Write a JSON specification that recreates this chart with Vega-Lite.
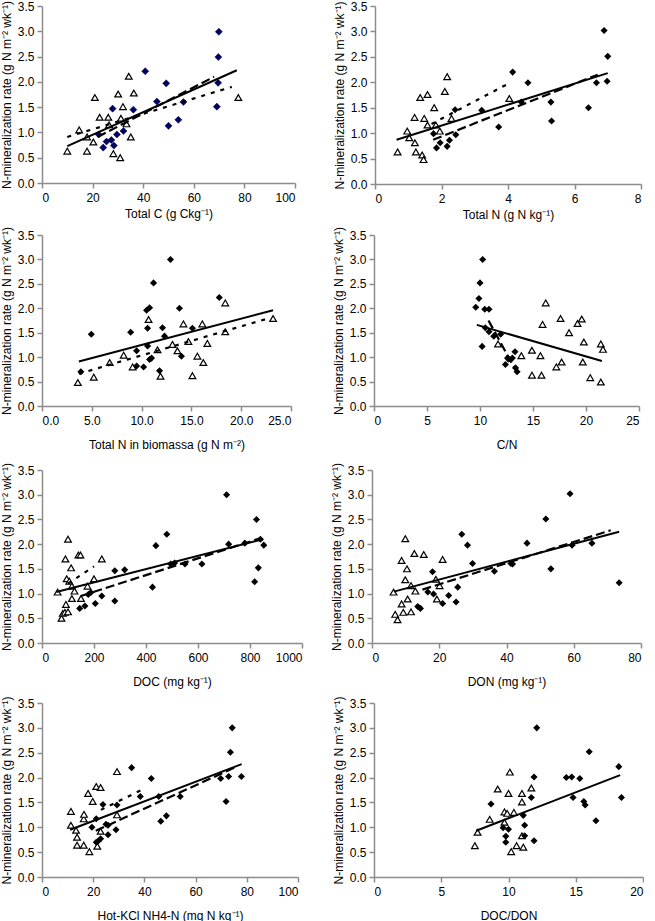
{
"$schema":"https://vega.github.io/schema/vega-lite/v6.json",
"background":"white",
"padding":{"left":0,"top":0,"right":0,"bottom":0},
"config":{
"view":{"stroke":null},
"axis":{"grid":false,"domainColor":"#8c8c8c","tickColor":"#8c8c8c","domainWidth":1.5,"tickWidth":1.5,"tickSize":5,"labelFont":"Liberation Sans","titleFont":"Liberation Sans","labelFontSize":12,"titleFontSize":12,"titleFontWeight":"normal","labelColor":"#000","titleColor":"#000"},
"axisY":{"labelPadding":3,"titlePadding":4},
"axisX":{"labelPadding":4,"titlePadding":13}
},
"datasets":{
"p1":[{"x":10,"y":0.63,"g":"t"},{"x":14.7,"y":1.05,"g":"t"},{"x":17.8,"y":0.91,"g":"t"},{"x":17.8,"y":0.63,"g":"t"},{"x":20.3,"y":0.81,"g":"t"},{"x":20.9,"y":1.69,"g":"t"},{"x":22.8,"y":1.3,"g":"t"},{"x":26.2,"y":1.3,"g":"t"},{"x":26.5,"y":1.15,"g":"t"},{"x":28.2,"y":0.58,"g":"t"},{"x":30.1,"y":1.76,"g":"t"},{"x":30.9,"y":0.5,"g":"t"},{"x":31.2,"y":1.28,"g":"t"},{"x":32.0,"y":1.51,"g":"t"},{"x":33.4,"y":1.17,"g":"t"},{"x":34.3,"y":2.11,"g":"t"},{"x":35.1,"y":0.91,"g":"t"},{"x":36.3,"y":1.78,"g":"t"},{"x":77.6,"y":1.69,"g":"t"},
{"x":22.4,"y":0.96,"g":"d"},{"x":24.2,"y":0.7,"g":"d"},{"x":25.5,"y":0.82,"g":"d"},{"x":27.9,"y":1.47,"g":"d"},{"x":27.4,"y":0.85,"g":"d"},{"x":28.4,"y":0.74,"g":"d"},{"x":29.6,"y":0.96,"g":"d"},{"x":32.2,"y":1.03,"g":"d"},{"x":36.1,"y":1.45,"g":"d"},{"x":40.8,"y":2.21,"g":"d"},{"x":45.4,"y":1.61,"g":"d"},{"x":49.1,"y":1.97,"g":"d"},{"x":50.0,"y":1.13,"g":"d"},{"x":53.9,"y":1.25,"g":"d"},{"x":55.9,"y":1.6,"g":"d"},{"x":69.1,"y":1.51,"g":"d"},{"x":69.6,"y":1.98,"g":"d"},{"x":69.7,"y":2.49,"g":"d"},{"x":69.9,"y":2.99,"g":"d"}],
"l1":[{"x":10,"y":0.73,"s":"solid"},{"x":77,"y":2.23,"s":"solid"},{"x":22,"y":0.91,"s":"dash"},{"x":68,"y":2.1,"s":"dash"},{"x":10,"y":0.91,"s":"dot"},{"x":75,"y":1.9,"s":"dot"}],
"p2":[{"x":0.68,"y":0.63,"g":"t"},{"x":0.97,"y":1.04,"g":"t"},{"x":1.03,"y":0.91,"g":"t"},{"x":1.19,"y":1.31,"g":"t"},{"x":1.2,"y":0.81,"g":"t"},{"x":1.23,"y":0.63,"g":"t"},{"x":1.36,"y":1.7,"g":"t"},{"x":1.42,"y":0.57,"g":"t"},{"x":1.46,"y":0.48,"g":"t"},{"x":1.48,"y":1.29,"g":"t"},{"x":1.58,"y":1.76,"g":"t"},{"x":1.58,"y":1.16,"g":"t"},{"x":1.78,"y":1.5,"g":"t"},{"x":1.83,"y":1.16,"g":"t"},{"x":1.95,"y":1.04,"g":"t"},{"x":2.1,"y":1.82,"g":"t"},{"x":2.17,"y":2.11,"g":"t"},{"x":2.3,"y":1.29,"g":"t"},{"x":4.04,"y":1.68,"g":"t"},
{"x":1.76,"y":0.99,"g":"d"},{"x":1.85,"y":0.71,"g":"d"},{"x":1.96,"y":0.81,"g":"d"},{"x":2.17,"y":0.74,"g":"d"},{"x":2.24,"y":0.86,"g":"d"},{"x":2.41,"y":1.46,"g":"d"},{"x":2.43,"y":0.97,"g":"d"},{"x":3.21,"y":1.45,"g":"d"},{"x":3.72,"y":1.12,"g":"d"},{"x":4.14,"y":2.2,"g":"d"},{"x":4.4,"y":1.61,"g":"d"},{"x":4.6,"y":1.99,"g":"d"},{"x":5.29,"y":1.61,"g":"d"},{"x":5.31,"y":1.24,"g":"d"},{"x":6.42,"y":1.5,"g":"d"},{"x":6.66,"y":1.99,"g":"d"},{"x":6.89,"y":3.02,"g":"d"},{"x":6.98,"y":2.02,"g":"d"},{"x":7.0,"y":2.51,"g":"d"}],
"l2":[{"x":0.65,"y":0.87,"s":"solid"},{"x":7.0,"y":2.18,"s":"solid"},{"x":1.75,"y":0.87,"s":"dash"},{"x":6.7,"y":2.15,"s":"dash"},{"x":1.7,"y":1.18,"s":"dot"},{"x":4.0,"y":1.97,"s":"dot"}],
"p3":[{"x":3.6,"y":0.48,"g":"t"},{"x":5.2,"y":0.59,"g":"t"},{"x":6.8,"y":0.89,"g":"t"},{"x":8.2,"y":1.04,"g":"t"},{"x":9.1,"y":0.8,"g":"t"},{"x":10.7,"y":1.77,"g":"t"},{"x":11.6,"y":1.15,"g":"t"},{"x":11.9,"y":0.61,"g":"t"},{"x":13.1,"y":1.26,"g":"t"},{"x":13.6,"y":1.13,"g":"t"},{"x":14.2,"y":1.68,"g":"t"},{"x":14.7,"y":1.32,"g":"t"},{"x":15.1,"y":0.62,"g":"t"},{"x":15.6,"y":1.02,"g":"t"},{"x":16.1,"y":1.68,"g":"t"},{"x":16.2,"y":0.89,"g":"t"},{"x":16.6,"y":1.28,"g":"t"},{"x":18.4,"y":1.52,"g":"t"},{"x":18.4,"y":2.11,"g":"t"},{"x":23.2,"y":1.79,"g":"t"},
{"x":3.9,"y":0.7,"g":"d"},{"x":4.95,"y":1.47,"g":"d"},{"x":8.9,"y":1.51,"g":"d"},{"x":9.5,"y":1.13,"g":"d"},{"x":9.5,"y":0.82,"g":"d"},{"x":10.2,"y":0.8,"g":"d"},{"x":10.5,"y":1.96,"g":"d"},{"x":10.6,"y":1.59,"g":"d"},{"x":10.6,"y":1.23,"g":"d"},{"x":10.8,"y":2.01,"g":"d"},{"x":10.8,"y":0.95,"g":"d"},{"x":11.0,"y":0.98,"g":"d"},{"x":11.2,"y":2.52,"g":"d"},{"x":11.8,"y":0.72,"g":"d"},{"x":12.1,"y":1.6,"g":"d"},{"x":12.3,"y":1.43,"g":"d"},{"x":12.9,"y":3.0,"g":"d"},{"x":13.8,"y":2.0,"g":"d"},{"x":14.0,"y":1.02,"g":"d"},{"x":15.1,"y":1.59,"g":"d"},{"x":17.8,"y":2.22,"g":"d"}],
"l3":[{"x":3.7,"y":0.91,"s":"solid"},{"x":23.2,"y":1.96,"s":"solid"},{"x":3.7,"y":0.66,"s":"dot"},{"x":22.5,"y":1.78,"s":"dot"}],
"p4":[{"x":11.7,"y":1.27,"g":"t"},{"x":13.9,"y":1.03,"g":"t"},{"x":14.9,"y":1.14,"g":"t"},{"x":14.9,"y":0.63,"g":"t"},{"x":15.7,"y":1.03,"g":"t"},{"x":15.8,"y":0.63,"g":"t"},{"x":15.9,"y":1.67,"g":"t"},{"x":16.2,"y":2.11,"g":"t"},{"x":17.2,"y":0.8,"g":"t"},{"x":17.7,"y":0.9,"g":"t"},{"x":17.6,"y":1.79,"g":"t"},{"x":18.4,"y":1.5,"g":"t"},{"x":19.2,"y":1.69,"g":"t"},{"x":19.6,"y":1.78,"g":"t"},{"x":19.8,"y":1.31,"g":"t"},{"x":19.7,"y":0.9,"g":"t"},{"x":20.4,"y":0.58,"g":"t"},{"x":21.4,"y":1.27,"g":"t"},{"x":21.4,"y":0.49,"g":"t"},{"x":21.6,"y":1.16,"g":"t"},
{"x":9.6,"y":2.02,"g":"d"},{"x":9.9,"y":2.2,"g":"d"},{"x":10.0,"y":2.52,"g":"d"},{"x":10.25,"y":3.0,"g":"d"},{"x":10.2,"y":1.22,"g":"d"},{"x":10.45,"y":1.98,"g":"d"},{"x":10.85,"y":1.98,"g":"d"},{"x":10.5,"y":1.6,"g":"d"},{"x":10.85,"y":1.52,"g":"d"},{"x":11.3,"y":1.43,"g":"d"},{"x":11.95,"y":1.47,"g":"d"},{"x":12.4,"y":0.85,"g":"d"},{"x":12.6,"y":0.98,"g":"d"},{"x":12.7,"y":0.96,"g":"d"},{"x":13.05,"y":0.98,"g":"d"},{"x":13.3,"y":1.11,"g":"d"},{"x":13.36,"y":0.78,"g":"d"},{"x":13.5,"y":0.7,"g":"d"}],
"l4":[{"x":9.7,"y":1.66,"s":"solid"},{"x":21.5,"y":0.92,"s":"solid"},{"x":10.8,"y":1.75,"s":"dash"},{"x":13.4,"y":0.72,"s":"dash"}],
"p5":[{"x":60,"y":1.03,"g":"t"},{"x":75,"y":0.5,"g":"t"},{"x":80,"y":0.6,"g":"t"},{"x":88,"y":0.62,"g":"t"},{"x":92,"y":0.78,"g":"t"},{"x":90,"y":1.7,"g":"t"},{"x":95,"y":1.3,"g":"t"},{"x":100,"y":2.1,"g":"t"},{"x":100,"y":0.63,"g":"t"},{"x":105,"y":1.25,"g":"t"},{"x":112,"y":1.52,"g":"t"},{"x":115,"y":0.9,"g":"t"},{"x":115,"y":1.15,"g":"t"},{"x":125,"y":1.05,"g":"t"},{"x":140,"y":1.78,"g":"t"},{"x":148,"y":1.78,"g":"t"},{"x":150,"y":0.9,"g":"t"},{"x":175,"y":1.15,"g":"t"},{"x":200,"y":1.3,"g":"t"},{"x":230,"y":1.7,"g":"t"},
{"x":145,"y":0.7,"g":"d"},{"x":165,"y":0.75,"g":"d"},{"x":178,"y":0.98,"g":"d"},{"x":188,"y":1.02,"g":"d"},{"x":205,"y":0.8,"g":"d"},{"x":230,"y":0.95,"g":"d"},{"x":280,"y":0.85,"g":"d"},{"x":280,"y":1.46,"g":"d"},{"x":318,"y":1.48,"g":"d"},{"x":425,"y":1.13,"g":"d"},{"x":438,"y":1.97,"g":"d"},{"x":480,"y":2.2,"g":"d"},{"x":495,"y":1.6,"g":"d"},{"x":510,"y":1.62,"g":"d"},{"x":550,"y":1.6,"g":"d"},{"x":615,"y":1.6,"g":"d"},{"x":710,"y":3.0,"g":"d"},{"x":718,"y":2.0,"g":"d"},{"x":780,"y":2.02,"g":"d"},{"x":818,"y":1.24,"g":"d"},{"x":825,"y":2.5,"g":"d"},{"x":832,"y":1.52,"g":"d"},{"x":840,"y":2.1,"g":"d"},{"x":853,"y":1.98,"g":"d"}],
"l5":[{"x":55,"y":1.03,"s":"solid"},{"x":850,"y":2.1,"s":"solid"},{"x":150,"y":0.95,"s":"dash"},{"x":840,"y":2.12,"s":"dash"},{"x":100,"y":1.2,"s":"dot"},{"x":200,"y":1.55,"s":"dot"}],
"p6":[{"x":6.4,"y":1.03,"g":"t"},{"x":6.9,"y":0.58,"g":"t"},{"x":7.6,"y":0.47,"g":"t"},{"x":8.8,"y":0.79,"g":"t"},{"x":8.8,"y":1.67,"g":"t"},{"x":9.3,"y":0.62,"g":"t"},{"x":9.9,"y":1.28,"g":"t"},{"x":9.9,"y":2.11,"g":"t"},{"x":10.4,"y":1.5,"g":"t"},{"x":10.6,"y":0.89,"g":"t"},{"x":11.6,"y":1.16,"g":"t"},{"x":11.6,"y":0.63,"g":"t"},{"x":12.6,"y":1.81,"g":"t"},{"x":12.9,"y":1.05,"g":"t"},{"x":15.4,"y":1.79,"g":"t"},{"x":19.0,"y":1.29,"g":"t"},{"x":19.3,"y":0.89,"g":"t"},{"x":20.1,"y":1.16,"g":"t"},{"x":21.0,"y":1.69,"g":"t"},
{"x":13.6,"y":0.74,"g":"d"},{"x":14.4,"y":0.7,"g":"d"},{"x":16.6,"y":1.03,"g":"d"},{"x":18.0,"y":1.44,"g":"d"},{"x":18.3,"y":0.99,"g":"d"},{"x":21.0,"y":0.8,"g":"d"},{"x":22.8,"y":0.96,"g":"d"},{"x":25.0,"y":0.83,"g":"d"},{"x":25.5,"y":1.13,"g":"d"},{"x":26.7,"y":2.2,"g":"d"},{"x":28.4,"y":1.98,"g":"d"},{"x":29.9,"y":1.61,"g":"d"},{"x":36.4,"y":1.45,"g":"d"},{"x":41.3,"y":1.61,"g":"d"},{"x":41.8,"y":1.6,"g":"d"},{"x":46.1,"y":2.02,"g":"d"},{"x":51.7,"y":2.51,"g":"d"},{"x":53.2,"y":1.5,"g":"d"},{"x":58.9,"y":3.02,"g":"d"},{"x":59.5,"y":1.98,"g":"d"},{"x":65.4,"y":2.02,"g":"d"},{"x":73.5,"y":1.22,"g":"d"}],
"l6":[{"x":6.5,"y":1.04,"s":"solid"},{"x":73.5,"y":2.25,"s":"solid"},{"x":15,"y":1.08,"s":"dash"},{"x":71,"y":2.28,"s":"dash"}],
"p7":[{"x":11.3,"y":1.32,"g":"t"},{"x":11.3,"y":1.04,"g":"t"},{"x":13.3,"y":0.94,"g":"t"},{"x":13.7,"y":0.8,"g":"t"},{"x":13.7,"y":0.64,"g":"t"},{"x":16.3,"y":0.64,"g":"t"},{"x":16.3,"y":1.17,"g":"t"},{"x":16.4,"y":1.26,"g":"t"},{"x":18.0,"y":1.68,"g":"t"},{"x":18.5,"y":0.51,"g":"t"},{"x":19.8,"y":1.52,"g":"t"},{"x":21.2,"y":1.82,"g":"t"},{"x":21.6,"y":0.62,"g":"t"},{"x":22.9,"y":1.8,"g":"t"},{"x":22.9,"y":0.92,"g":"t"},{"x":29.3,"y":2.12,"g":"t"},{"x":29.3,"y":1.25,"g":"t"},
{"x":19.5,"y":1.0,"g":"d"},{"x":21.2,"y":1.17,"g":"d"},{"x":21.2,"y":0.7,"g":"d"},{"x":22.1,"y":0.73,"g":"d"},{"x":22.9,"y":0.77,"g":"d"},{"x":23.8,"y":1.46,"g":"d"},{"x":25.0,"y":1.06,"g":"d"},{"x":25.8,"y":1.04,"g":"d"},{"x":25.8,"y":0.85,"g":"d"},{"x":28.9,"y":0.95,"g":"d"},{"x":29.3,"y":1.45,"g":"d"},{"x":35.0,"y":2.2,"g":"d"},{"x":38.4,"y":1.62,"g":"d"},{"x":42.7,"y":1.98,"g":"d"},{"x":45.6,"y":1.62,"g":"d"},{"x":46.4,"y":1.12,"g":"d"},{"x":48.6,"y":1.23,"g":"d"},{"x":54.0,"y":1.62,"g":"d"},{"x":69.8,"y":1.98,"g":"d"},{"x":71.9,"y":1.52,"g":"d"},{"x":72.9,"y":2.02,"g":"d"},{"x":73.6,"y":2.51,"g":"d"},{"x":74.3,"y":3.0,"g":"d"},{"x":77.9,"y":2.02,"g":"d"}],
"l7":[{"x":11,"y":0.95,"s":"solid"},{"x":78,"y":2.27,"s":"solid"},{"x":21,"y":0.93,"s":"dash"},{"x":76,"y":2.22,"s":"dash"},{"x":23,"y":1.35,"s":"dot"},{"x":40,"y":1.78,"s":"dot"}],
"p8":[{"x":7.5,"y":0.63,"g":"t"},{"x":7.7,"y":0.9,"g":"t"},{"x":8.6,"y":1.16,"g":"t"},{"x":9.2,"y":1.77,"g":"t"},{"x":9.7,"y":1.31,"g":"t"},{"x":9.7,"y":1.1,"g":"t"},{"x":9.9,"y":1.28,"g":"t"},{"x":10.0,"y":1.68,"g":"t"},{"x":10.1,"y":2.11,"g":"t"},{"x":10.2,"y":0.51,"g":"t"},{"x":10.4,"y":1.3,"g":"t"},{"x":10.6,"y":0.63,"g":"t"},{"x":11.0,"y":1.68,"g":"t"},{"x":11.0,"y":1.51,"g":"t"},{"x":11.0,"y":0.83,"g":"t"},{"x":11.1,"y":0.6,"g":"t"},{"x":11.7,"y":1.79,"g":"t"},
{"x":8.7,"y":1.47,"g":"d"},{"x":9.6,"y":0.99,"g":"d"},{"x":9.8,"y":0.7,"g":"d"},{"x":9.8,"y":0.82,"g":"d"},{"x":10.0,"y":0.96,"g":"d"},{"x":11.1,"y":1.24,"g":"d"},{"x":11.2,"y":1.04,"g":"d"},{"x":11.2,"y":0.83,"g":"d"},{"x":11.7,"y":1.6,"g":"d"},{"x":11.9,"y":2.01,"g":"d"},{"x":11.9,"y":0.73,"g":"d"},{"x":12.1,"y":3.0,"g":"d"},{"x":14.3,"y":2.0,"g":"d"},{"x":14.7,"y":2.01,"g":"d"},{"x":15.3,"y":1.98,"g":"d"},{"x":14.8,"y":1.6,"g":"d"},{"x":15.6,"y":1.52,"g":"d"},{"x":15.7,"y":1.45,"g":"d"},{"x":16.0,"y":2.52,"g":"d"},{"x":16.5,"y":1.13,"g":"d"},{"x":18.2,"y":2.22,"g":"d"},{"x":18.4,"y":1.6,"g":"d"}],
"l8":[{"x":7.6,"y":0.93,"s":"solid"},{"x":18.3,"y":2.05,"s":"solid"}]
},
"vconcat":[
{"vconcat":[
{"hconcat":[
{"width":253,"height":177,
"encoding":{"x":{"field":"x","type":"quantitative","scale":{"domain":[0,100],"nice":false,"zero":false},"axis":{"values":[0,20,40,60,80,100],"format":"d","title":"Total C (g Ckg⁻¹)","titlePadding":5}},
"y":{"field":"y","type":"quantitative","scale":{"domain":[0,3.5],"nice":false},"axis":{"values":[0,0.5,1,1.5,2,2.5,3,3.5],"format":".1f","title":"N-mineralization rate (g N m⁻² wk⁻¹)"}}},
"layer":[
{"data":{"name":"p1"},"transform":[{"filter":"datum.g=='t'"}],"mark":{"type":"point","shape":"triangle-up","filled":true,"fill":"white","stroke":"black","strokeWidth":1.2,"size":45,"opacity":1}},
{"data":{"name":"p1"},"transform":[{"filter":"datum.g=='d'"}],"mark":{"type":"point","shape":"diamond","filled":true,"fill":"#000066","stroke":"#000033","strokeWidth":0.5,"size":50,"opacity":1}},
{"data":{"name":"l1"},"transform":[{"filter":"datum.s=='solid'"}],"mark":{"type":"line","color":"black","strokeWidth":2}},
{"data":{"name":"l1"},"transform":[{"filter":"datum.s=='dash'"}],"mark":{"type":"line","color":"black","strokeWidth":2.2,"strokeDash":[9,4]}},
{"data":{"name":"l1"},"transform":[{"filter":"datum.s=='dot'"}],"mark":{"type":"line","color":"black","strokeWidth":2.2,"strokeDash":[4,6]}}
]},
{"width":266,"height":178,
"encoding":{"x":{"field":"x","type":"quantitative","scale":{"domain":[0,8],"nice":false,"zero":false},"axis":{"values":[0,2,4,6,8],"format":"d","title":"Total N (g N kg⁻¹)","titlePadding":5}},
"y":{"field":"y","type":"quantitative","scale":{"domain":[0,3.5],"nice":false},"axis":{"values":[0,0.5,1,1.5,2,2.5,3,3.5],"format":".1f","title":"N-mineralization rate (g N m⁻² wk⁻¹)"}}},
"layer":[
{"data":{"name":"p2"},"transform":[{"filter":"datum.g=='t'"}],"mark":{"type":"point","shape":"triangle-up","filled":true,"fill":"white","stroke":"black","strokeWidth":1.2,"size":45,"opacity":1}},
{"data":{"name":"p2"},"transform":[{"filter":"datum.g=='d'"}],"mark":{"type":"point","shape":"diamond","filled":true,"fill":"black","size":50,"opacity":1}},
{"data":{"name":"l2"},"transform":[{"filter":"datum.s=='solid'"}],"mark":{"type":"line","color":"black","strokeWidth":2}},
{"data":{"name":"l2"},"transform":[{"filter":"datum.s=='dash'"}],"mark":{"type":"line","color":"black","strokeWidth":2.2,"strokeDash":[9,4]}},
{"data":{"name":"l2"},"transform":[{"filter":"datum.s=='dot'"}],"mark":{"type":"line","color":"black","strokeWidth":2.2,"strokeDash":[4,6]}}
]}
],"spacing":37},
{"hconcat":[
{"width":249,"height":171,
"encoding":{"x":{"field":"x","type":"quantitative","scale":{"domain":[0,25],"nice":false,"zero":false},"axis":{"values":[0,5,10,15,20,25],"format":".1f","title":"Total N in biomassa (g N m⁻²)"}},
"y":{"field":"y","type":"quantitative","scale":{"domain":[0,3.5],"nice":false},"axis":{"values":[0,0.5,1,1.5,2,2.5,3,3.5],"format":".1f","title":"N-mineralization rate (g N m⁻² wk⁻¹)"}}},
"layer":[
{"data":{"name":"p3"},"transform":[{"filter":"datum.g=='t'"}],"mark":{"type":"point","shape":"triangle-up","filled":true,"fill":"white","stroke":"black","strokeWidth":1.2,"size":45,"opacity":1}},
{"data":{"name":"p3"},"transform":[{"filter":"datum.g=='d'"}],"mark":{"type":"point","shape":"diamond","filled":true,"fill":"black","size":50,"opacity":1}},
{"data":{"name":"l3"},"transform":[{"filter":"datum.s=='solid'"}],"mark":{"type":"line","color":"black","strokeWidth":2}},
{"data":{"name":"l3"},"transform":[{"filter":"datum.s=='dot'"}],"mark":{"type":"line","color":"black","strokeWidth":2.2,"strokeDash":[4,6]}}
]},
{"width":265,"height":171,
"encoding":{"x":{"field":"x","type":"quantitative","scale":{"domain":[0,25],"nice":false,"zero":false},"axis":{"values":[0,5,10,15,20,25],"format":"d","title":"C/N"}},
"y":{"field":"y","type":"quantitative","scale":{"domain":[0,3.5],"nice":false},"axis":{"values":[0,0.5,1,1.5,2,2.5,3,3.5],"format":".1f","title":"N-mineralization rate (g N m⁻² wk⁻¹)"}}},
"layer":[
{"data":{"name":"p4"},"transform":[{"filter":"datum.g=='t'"}],"mark":{"type":"point","shape":"triangle-up","filled":true,"fill":"white","stroke":"black","strokeWidth":1.2,"size":45,"opacity":1}},
{"data":{"name":"p4"},"transform":[{"filter":"datum.g=='d'"}],"mark":{"type":"point","shape":"diamond","filled":true,"fill":"black","size":50,"opacity":1}},
{"data":{"name":"l4"},"transform":[{"filter":"datum.s=='solid'"}],"mark":{"type":"line","color":"black","strokeWidth":2}},
{"data":{"name":"l4"},"transform":[{"filter":"datum.s=='dash'"}],"mark":{"type":"line","color":"black","strokeWidth":2.2,"strokeDash":[9,4]}}
]}
],"spacing":40}
],"spacing":6},
{"vconcat":[
{"hconcat":[
{"width":260,"height":173,
"encoding":{"x":{"field":"x","type":"quantitative","scale":{"domain":[0,1000],"nice":false,"zero":false},"axis":{"values":[0,200,400,600,800,1000],"format":"d","title":"DOC  (mg kg⁻¹)"}},
"y":{"field":"y","type":"quantitative","scale":{"domain":[0,3.5],"nice":false},"axis":{"values":[0,0.5,1,1.5,2,2.5,3,3.5],"format":".1f","title":"N-mineralization rate (g N m⁻² wk⁻¹)"}}},
"layer":[
{"data":{"name":"p5"},"transform":[{"filter":"datum.g=='t'"}],"mark":{"type":"point","shape":"triangle-up","filled":true,"fill":"white","stroke":"black","strokeWidth":1.2,"size":45,"opacity":1}},
{"data":{"name":"p5"},"transform":[{"filter":"datum.g=='d'"}],"mark":{"type":"point","shape":"diamond","filled":true,"fill":"black","size":50,"opacity":1}},
{"data":{"name":"l5"},"transform":[{"filter":"datum.s=='solid'"}],"mark":{"type":"line","color":"black","strokeWidth":2}},
{"data":{"name":"l5"},"transform":[{"filter":"datum.s=='dash'"}],"mark":{"type":"line","color":"black","strokeWidth":2.2,"strokeDash":[9,4]}},
{"data":{"name":"l5"},"transform":[{"filter":"datum.s=='dot'"}],"mark":{"type":"line","color":"black","strokeWidth":2.2,"strokeDash":[4,6]}}
]},
{"width":269,"height":173,
"encoding":{"x":{"field":"x","type":"quantitative","scale":{"domain":[0,80],"nice":false,"zero":false},"axis":{"values":[0,20,40,60,80],"format":"d","title":"DON  (mg kg⁻¹)"}},
"y":{"field":"y","type":"quantitative","scale":{"domain":[0,3.5],"nice":false},"axis":{"values":[0,0.5,1,1.5,2,2.5,3,3.5],"format":".1f","title":"N-mineralization rate (g N m⁻² wk⁻¹)"}}},
"layer":[
{"data":{"name":"p6"},"transform":[{"filter":"datum.g=='t'"}],"mark":{"type":"point","shape":"triangle-up","filled":true,"fill":"white","stroke":"black","strokeWidth":1.2,"size":45,"opacity":1}},
{"data":{"name":"p6"},"transform":[{"filter":"datum.g=='d'"}],"mark":{"type":"point","shape":"diamond","filled":true,"fill":"black","size":50,"opacity":1}},
{"data":{"name":"l6"},"transform":[{"filter":"datum.s=='solid'"}],"mark":{"type":"line","color":"black","strokeWidth":2}},
{"data":{"name":"l6"},"transform":[{"filter":"datum.s=='dash'"}],"mark":{"type":"line","color":"black","strokeWidth":2.2,"strokeDash":[9,4]}}
]}
],"spacing":27},
{"hconcat":[
{"width":256,"height":174,
"encoding":{"x":{"field":"x","type":"quantitative","scale":{"domain":[0,100],"nice":false,"zero":false},"axis":{"values":[0,20,40,60,80,100],"format":"d","title":"Hot-KCl NH4-N (mg N kg⁻¹)"}},
"y":{"field":"y","type":"quantitative","scale":{"domain":[0,3.5],"nice":false},"axis":{"values":[0,0.5,1,1.5,2,2.5,3,3.5],"format":".1f","title":"N-mineralization rate (g N m⁻² wk⁻¹)"}}},
"layer":[
{"data":{"name":"p7"},"transform":[{"filter":"datum.g=='t'"}],"mark":{"type":"point","shape":"triangle-up","filled":true,"fill":"white","stroke":"black","strokeWidth":1.2,"size":45,"opacity":1}},
{"data":{"name":"p7"},"transform":[{"filter":"datum.g=='d'"}],"mark":{"type":"point","shape":"diamond","filled":true,"fill":"black","size":50,"opacity":1}},
{"data":{"name":"l7"},"transform":[{"filter":"datum.s=='solid'"}],"mark":{"type":"line","color":"black","strokeWidth":2}},
{"data":{"name":"l7"},"transform":[{"filter":"datum.s=='dash'"}],"mark":{"type":"line","color":"black","strokeWidth":2.2,"strokeDash":[9,4]}},
{"data":{"name":"l7"},"transform":[{"filter":"datum.s=='dot'"}],"mark":{"type":"line","color":"black","strokeWidth":2.2,"strokeDash":[4,6]}}
]},
{"width":269,"height":174,
"encoding":{"x":{"field":"x","type":"quantitative","scale":{"domain":[0,20],"nice":false,"zero":false},"axis":{"values":[0,5,10,15,20],"format":"d","title":"DOC/DON"}},
"y":{"field":"y","type":"quantitative","scale":{"domain":[0,3.5],"nice":false},"axis":{"values":[0,0.5,1,1.5,2,2.5,3,3.5],"format":".1f","title":"N-mineralization rate (g N m⁻² wk⁻¹)"}}},
"layer":[
{"data":{"name":"p8"},"transform":[{"filter":"datum.g=='t'"}],"mark":{"type":"point","shape":"triangle-up","filled":true,"fill":"white","stroke":"black","strokeWidth":1.2,"size":45,"opacity":1}},
{"data":{"name":"p8"},"transform":[{"filter":"datum.g=='d'"}],"mark":{"type":"point","shape":"diamond","filled":true,"fill":"black","size":50,"opacity":1}},
{"data":{"name":"l8"},"transform":[{"filter":"datum.s=='solid'"}],"mark":{"type":"line","color":"black","strokeWidth":2}}
]}
],"spacing":33}
],"spacing":8}
],
"spacing":12
}
